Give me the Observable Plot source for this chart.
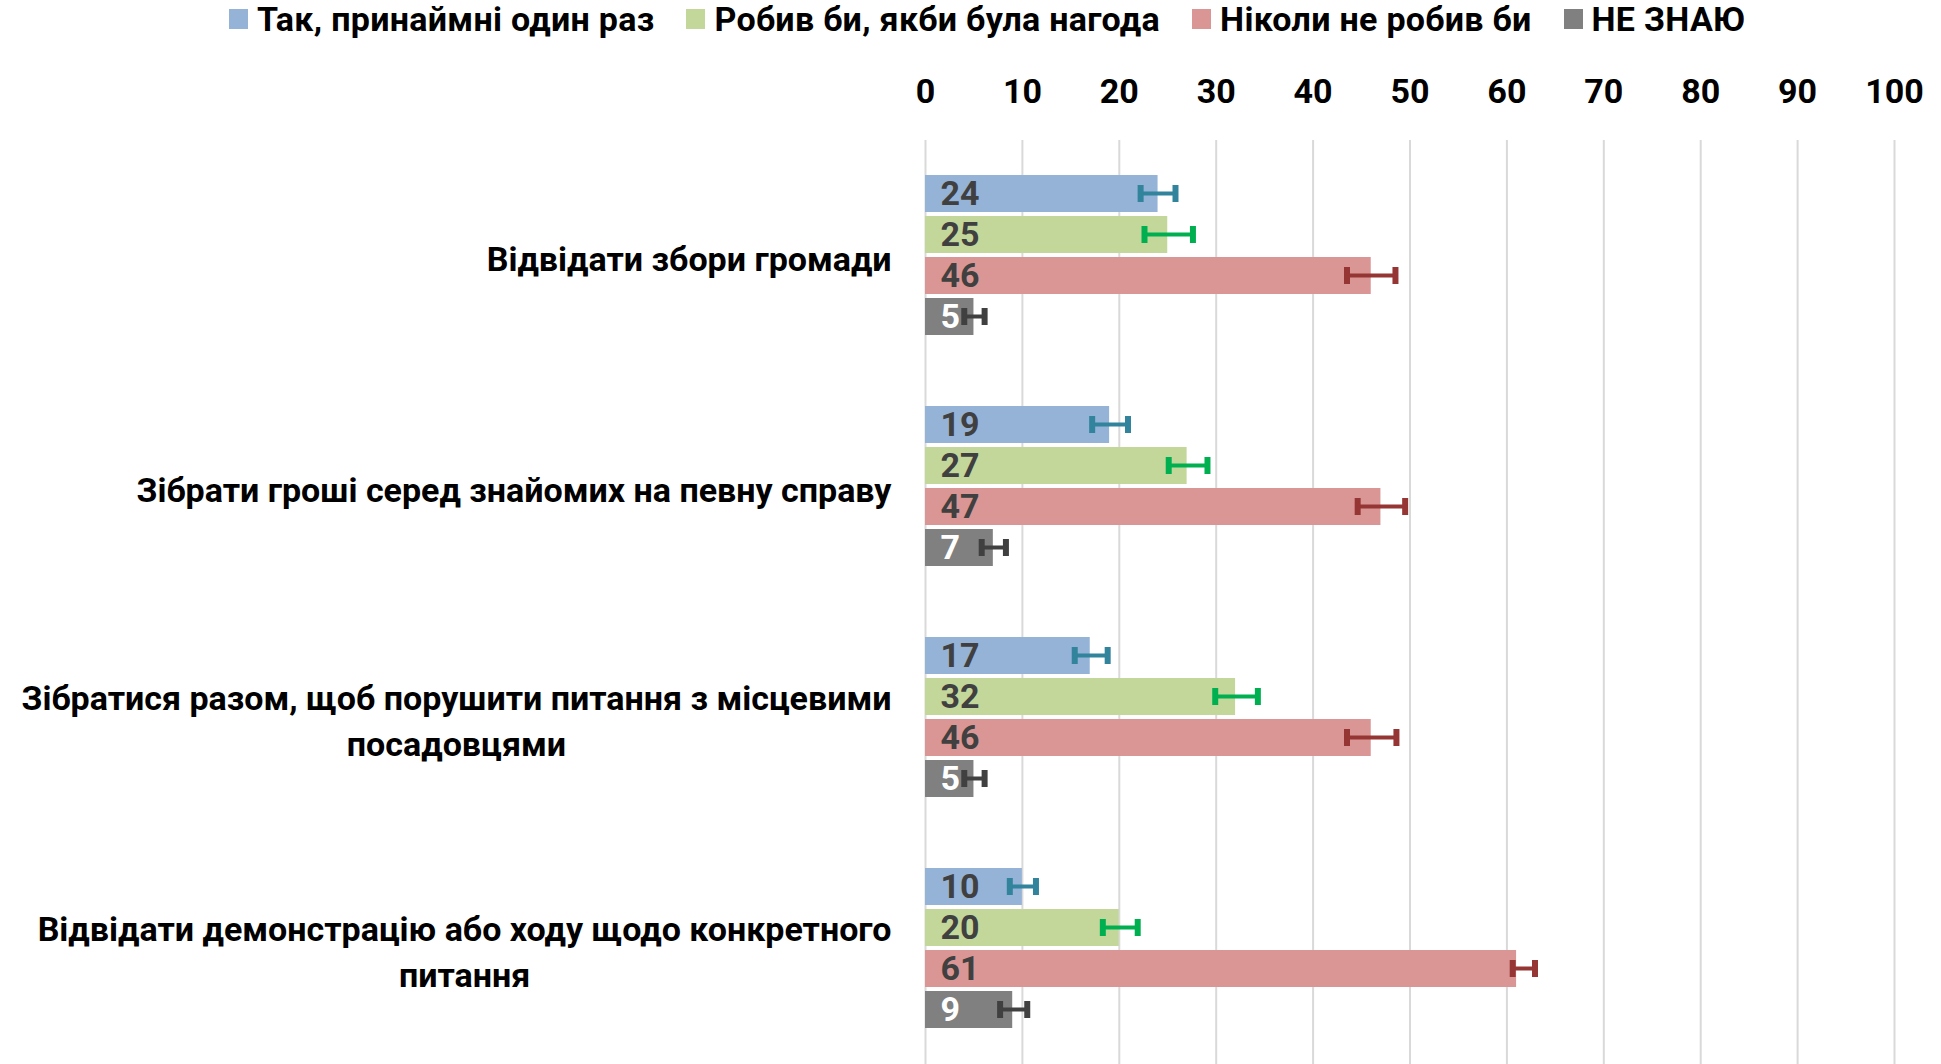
<!DOCTYPE html>
<html><head><meta charset="utf-8">
<script src="https://cdn.jsdelivr.net/npm/d3@7"></script>
<script src="https://cdn.jsdelivr.net/npm/@observablehq/plot@0.6"></script>
<style>
body{margin:0;background:#fff;font-family:Roboto,sans-serif;}
#legend{height:38px;margin-bottom:8px;display:flex;align-items:center;padding-left:229px;font-weight:bold;font-size:34px;letter-spacing:0.3px;color:#000;white-space:nowrap;}
.item{display:flex;align-items:center;margin-right:32px;}
.sw{width:19px;height:20px;margin-right:9px;}
</style></head><body>
<div id="legend"></div><div id="chart"></div>
<script>
const categories = [
  "Відвідати збори громади",
  "Зібрати гроші серед знайомих на певну справу",
  "Зібратися разом, щоб порушити питання з місцевими посадовцями",
  "Відвідати демонстрацію або ходу щодо конкретного питання"
];
const categoryLabels = [
  "Відвідати збори громади",
  "Зібрати гроші серед знайомих на певну справу",
  "Зібратися разом, щоб порушити питання з місцевими\nпосадовцями",
  "Відвідати демонстрацію або ходу щодо конкретного\nпитання"
];
const series = ["Так, принаймні один раз", "Робив би, якби була нагода", "Ніколи не робив би", "НЕ ЗНАЮ"];
const barColors = ["#95B3D7", "#C4D79B", "#DA9694", "#808080"];
const errColors = ["#31849B", "#00B050", "#963634", "#404040"];
const labelColors = ["#404040", "#404040", "#404040", "#FFFFFF"];

const valuesYes   = [24, 19, 17, 10];
const valuesWould = [25, 27, 32, 20];
const valuesNever = [46, 47, 46, 61];
const valuesDK    = [5, 7, 5, 9];

const errLowYes   = [22.2, 17.2, 15.4, 8.7];
const errHighYes  = [25.8, 20.9, 18.8, 11.4];
const errLowWould = [22.6, 25.1, 29.9, 18.3];
const errHighWould= [27.6, 29.1, 34.3, 21.9];
const errLowNever = [43.5, 44.6, 43.5, 60.6];
const errHighNever= [48.5, 49.5, 48.6, 62.9];
const errLowDK    = [4.0, 5.8, 4.0, 7.7];
const errHighDK   = [6.1, 8.3, 6.1, 10.5];

const xTicks = [0, 10, 20, 30, 40, 50, 60, 70, 80, 90, 100];

const seriesValues = [valuesYes, valuesWould, valuesNever, valuesDK];
const seriesLow = [errLowYes, errLowWould, errLowNever, errLowDK];
const seriesHigh = [errHighYes, errHighWould, errHighNever, errHighDK];

const rows = [];
categories.forEach((c, ci) => {
  series.forEach((s, si) => {
    rows.push({category: c, series: s, si, value: seriesValues[si][ci], low: seriesLow[si][ci], high: seriesHigh[si][ci]});
  });
});

// legend
const legend = document.getElementById("legend");
series.forEach((s, i) => {
  const it = document.createElement("div"); it.className = "item";
  const sw = document.createElement("div"); sw.className = "sw"; sw.style.background = barColors[i];
  const tx = document.createElement("span"); tx.textContent = s;
  it.append(sw, tx); legend.append(it);
});

const plot = Plot.plot({
  width: 1941, height: 93 + 926,
  marginTop: 93, marginLeft: 925, marginRight: 47, marginBottom: 0,
  style: {fontFamily: "Roboto, sans-serif", background: "#fff", overflow: "visible"},
  x: {domain: [0, 100], axis: null},
  y: {domain: series, axis: null, paddingInner: 0.09, paddingOuter: 0.85},
  fy: {domain: categories, axis: null, padding: 0},
  color: {type: "identity"},
  marks: [
    Plot.gridX(xTicks, {stroke: "#D9D9D9", strokeWidth: 2, strokeOpacity: 1}),
    Plot.axisX(xTicks, {anchor: "top", tickSize: 0, tickPadding: 38, fontSize: 34, fontWeight: "bold", fill: "#000", tickFormat: d => String(d)}),
    Plot.barX(rows, {x: "value", y: "series", fy: "category", fill: d => barColors[d.si]}),
    Plot.barX(rows, {x1: "low", x2: "high", y: "series", fy: "category", fill: d => errColors[d.si], insetTop: 16.5, insetBottom: 16.5}),
    Plot.tickX(rows, {x: "low", y: "series", fy: "category", stroke: d => errColors[d.si], strokeWidth: 6, insetTop: 10, insetBottom: 10}),
    Plot.tickX(rows, {x: "high", y: "series", fy: "category", stroke: d => errColors[d.si], strokeWidth: 6, insetTop: 10, insetBottom: 10}),
    Plot.text(rows, {y: "series", fy: "category", text: d => String(d.value), frameAnchor: "left", dx: 15, textAnchor: "start", fontSize: 34, fontWeight: "bold", fill: d => labelColors[d.si]}),
    Plot.text(categories, {fy: d => d, text: (d, i) => categoryLabels[i], frameAnchor: "left", dx: -34, textAnchor: "end", lineAnchor: "middle", lineHeight: 1.35, fontSize: 34, fontWeight: "bold", fill: "#000"})
  ]
});
document.getElementById("chart").append(plot);
plot.querySelectorAll("text").forEach(t => {
  const spans = t.querySelectorAll("tspan");
  if (spans.length < 2) return;
  const ws = [...spans].map(s => s.getComputedTextLength());
  const W = Math.max(...ws);
  spans.forEach((s, i) => s.setAttribute("x", -(W - ws[i]) / 2));
});
</script></body></html>
